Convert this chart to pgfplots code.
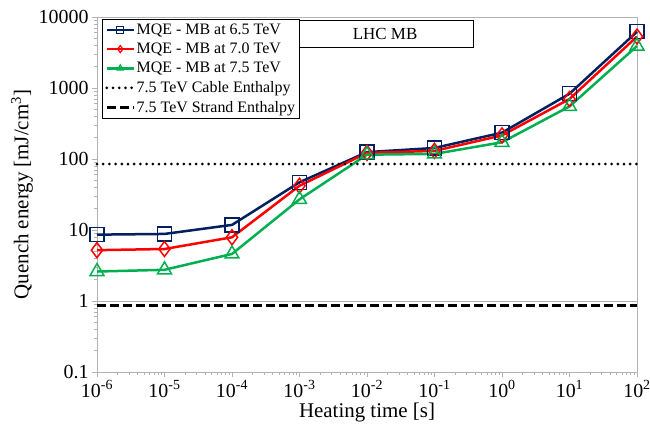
\documentclass[border=0pt]{standalone}
\usepackage{fontspec}
\setmainfont{Liberation Serif}
\usepackage{pgfplots}
\pgfplotsset{compat=1.18}
\definecolor{navy}{HTML}{002060}
\definecolor{exgreen}{HTML}{00B050}
\begin{document}
\begin{tikzpicture}
\begin{axis}[
  scale only axis, width=540bp, height=355bp,
  xmode=log, ymode=log,
  xmin=1e-6, xmax=1e2, ymin=0.1, ymax=1e4,
  clip=false,
  axis line style={gray!60, line width=0.8bp},
  xtick={1e-6,1e-5,1e-4,1e-3,1e-2,1e-1,1,10,100},
  xticklabels={10\textsuperscript{-6},10\textsuperscript{-5},10\textsuperscript{-4},10\textsuperscript{-3},10\textsuperscript{-2},10\textsuperscript{-1},10\textsuperscript{0},10\textsuperscript{1},10\textsuperscript{2}},
  minor xtick={2e-6,3e-6,4e-6,5e-6,6e-6,7e-6,8e-6,9e-6,
    2e-5,3e-5,4e-5,5e-5,6e-5,7e-5,8e-5,9e-5,
    2e-4,3e-4,4e-4,5e-4,6e-4,7e-4,8e-4,9e-4,
    2e-3,3e-3,4e-3,5e-3,6e-3,7e-3,8e-3,9e-3,
    2e-2,3e-2,4e-2,5e-2,6e-2,7e-2,8e-2,9e-2,
    0.2,0.3,0.4,0.5,0.6,0.7,0.8,0.9,
    2,3,4,5,6,7,8,9,
    20,30,40,50,60,70,80,90},
  ytick={0.1,1,10,100,1000,10000},
  yticklabels={0.1,1,10,100,1000,10000},
  minor ytick={0.2,0.3,0.4,0.5,0.6,0.7,0.8,0.9,
    2,3,4,5,6,7,8,9,
    20,30,40,50,60,70,80,90,
    200,300,400,500,600,700,800,900,
    2000,3000,4000,5000,6000,7000,8000,9000},
  xtick pos=bottom, ytick pos=left,
  tick align=outside,
  major tick length=5bp, minor tick length=3bp,
  every tick/.style={gray!60, line width=0.6bp},
  tick label style={font=\fontsize{20}{22}\selectfont, black},
  xlabel={Heating time [s]},
  ylabel={Quench energy [mJ/cm\textsuperscript{3}]},
  label style={font=\fontsize{21}{24}\selectfont},
  xlabel style={at={(axis description cs:0.5,-0.113)}, anchor=center},
  ylabel style={at={(axis description cs:-0.139,0.5)}, anchor=center},
  legend style={at={(axis description cs:0.0093,0.9944)}, anchor=north west,
    draw=black, line width=0.6bp, fill=white,
    font=\fontsize{16}{18}\selectfont, row sep=4.2bp, inner sep=3bp,
    nodes={inner sep=1.5bp}},
  legend cell align=left,
  legend image code/.code={
    \draw[#1, mark=none] (0cm,0cm) -- (0.95cm,0cm);
    \draw[#1, mark size=3.5bp, mark options={line width=1.2bp, solid}] plot coordinates {(0.475cm,0cm)};
  },
]
\addplot[gray!60, line width=0.8bp, forget plot] coordinates {(1e-6,1) (1e2,1)};

\addplot[navy, line width=2.5bp, mark=square, mark size=7bp, mark options={line width=1.5bp, solid}]
 coordinates {(1e-6,8.6)(1e-5,8.8)(1e-4,11.8)(1e-3,47)(1e-2,125)(1e-1,143)(1,235)(10,830)(100,6200)};
\addlegendentry{MQE - MB at 6.5 TeV}
\addplot[red, line width=2.5bp, mark=diamond, mark size=7.5bp, mark options={line width=1.5bp, solid}]
 coordinates {(1e-6,5.2)(1e-5,5.4)(1e-4,7.9)(1e-3,42)(1e-2,122)(1e-1,130)(1,215)(10,700)(100,5300)};
\addlegendentry{MQE - MB at 7.0 TeV}
\addplot[exgreen, line width=2.5bp, mark=triangle, mark size=8bp, mark options={line width=1.5bp, solid}]
 coordinates {(1e-6,2.6)(1e-5,2.75)(1e-4,4.6)(1e-3,27)(1e-2,115)(1e-1,118)(1,172)(10,550)(100,3900)};
\addlegendentry{MQE - MB at 7.5 TeV}
\addplot[black, line width=3bp, line cap=round, dash pattern=on 0bp off 6.2bp]
 coordinates {(1e-6,85)(1e2,85)};
\addlegendentry{7.5 TeV Cable Enthalpy}
\addplot[black, line width=3bp, dash pattern=on 9bp off 4bp]
 coordinates {(1e-6,0.87)(1e2,0.87)};
\addlegendentry{7.5 TeV Strand Enthalpy}

\node[draw=black, line width=0.6bp, fill=white, anchor=north west,
  minimum width=176bp, minimum height=27bp, inner sep=0pt,
  font=\fontsize{17}{20}\selectfont]
  at (axis description cs:0.370,0.9915) {LHC MB};
\end{axis}
\path (current axis.south west) ++(-97bp,-58bp) coordinate (bbA);
\path (current axis.north east) ++(13bp,17bp) coordinate (bbB);
\pgfresetboundingbox
\useasboundingbox (bbA) rectangle (bbB);
\end{tikzpicture}
\end{document}
